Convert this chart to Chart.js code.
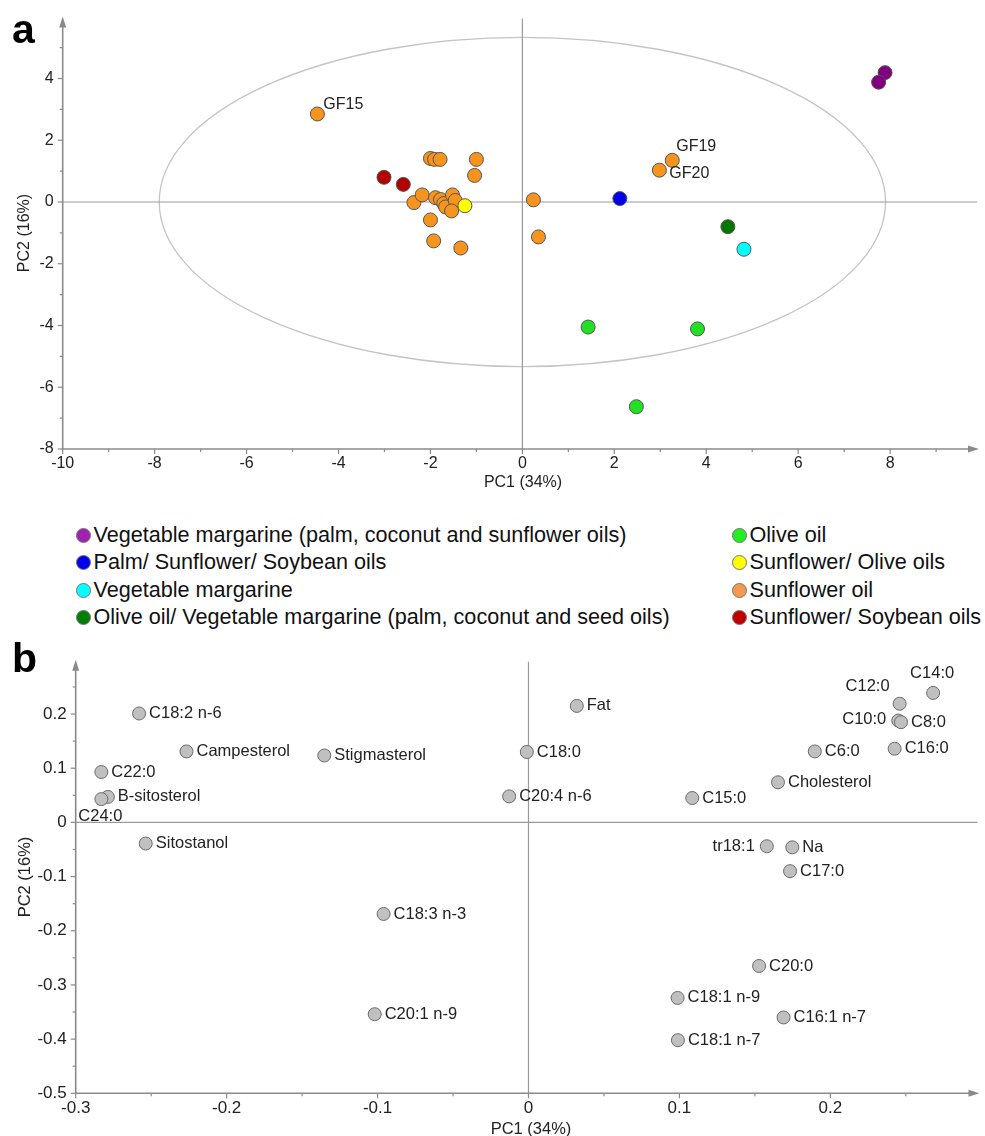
<!DOCTYPE html>
<html>
<head>
<meta charset="utf-8">
<script src="https://cdn.jsdelivr.net/npm/chart.js@4.4.1/dist/chart.umd.min.js"></script>
<style>
  html, body { margin:0; padding:0; background:#fff; }
  body { width:985px; height:1136px; position:relative; overflow:hidden; font-family:"Liberation Sans", Arial, sans-serif; }
  canvas { position:absolute; left:0; }
  .panel { position:absolute; left:12px; font-weight:bold; font-size:41px; line-height:41px; color:#000; z-index:5; }
  .leg { position:absolute; height:26px; display:flex; align-items:center; font-size:21.6px; color:#111; white-space:nowrap; }
  .leg i { display:inline-block; width:15px; height:15px; border-radius:50%; box-sizing:border-box; border:1px solid #777; margin-right:3px; }
</style>
</head>
<body>
<canvas id="ca" width="985" height="505" style="top:0"></canvas>
<canvas id="cb" width="985" height="496" style="top:640px"></canvas>
<div class="panel" style="top:9px">a</div>
<div class="panel" style="top:638px">b</div>
<div id="legend"></div>
<script>
// ---------- Panel a: scores ----------
const aXTicks = [-10, -8, -6, -4, -2, 0, 2, 4, 6, 8];
const aYTicks = [-8, -6, -4, -2, 0, 2, 4];

const margarinePCSX = [7.89, 7.75];
const margarinePCSY = [4.19, 3.88];
const palmSunSoyX = [2.12];
const palmSunSoyY = [0.11];
const vegMargarineX = [4.82];
const vegMargarineY = [-1.53];
const oliveVegMargX = [4.47];
const oliveVegMargY = [-0.80];
const oliveX = [1.43, 3.81, 2.48];
const oliveY = [-4.05, -4.11, -6.63];
const sunOliveX = [-1.25];
const sunOliveY = [-0.12];
const sunflowerX = [-4.46, -2.0, -1.91, -1.79, -1.0, -1.04, -2.36, -2.18, -1.89, -1.78, -1.71, -1.67, -1.52, -1.46, -1.54, -2.0, -1.93, -1.34, 3.26, 2.98, 0.24, 0.35];
const sunflowerY = [2.85, 1.41, 1.38, 1.38, 1.38, 0.86, -0.02, 0.23, 0.14, 0.08, -0.05, -0.16, 0.23, 0.05, -0.29, -0.58, -1.26, -1.49, 1.35, 1.03, 0.07, -1.13];
const sunflowerIds = ['GF15', '', '', '', '', '', '', '', '', '', '', '', '', '', '', '', '', '', 'GF19', 'GF20', '', ''];
const sunSoyX = [-3.01, -2.59];
const sunSoyY = [0.80, 0.57];

const groupNames = [
  'Vegetable margarine (palm, coconut and sunflower oils)',
  'Palm/ Sunflower/ Soybean oils',
  'Vegetable margarine',
  'Olive oil/ Vegetable margarine (palm, coconut and seed oils)',
  'Olive oil',
  'Sunflower/ Olive oils',
  'Sunflower oil',
  'Sunflower/ Soybean oils'
];

// ---------- Panel b: loadings ----------
const bXTicks = [-0.3, -0.2, -0.1, 0, 0.1, 0.2];
const bYTicks = [-0.5, -0.4, -0.3, -0.2, -0.1, 0, 0.1, 0.2];
const loadingNames = ['C18:2 n-6', 'Campesterol', 'Stigmasterol', 'C22:0', 'B-sitosterol', 'C24:0', 'Sitostanol', 'C18:3 n-3', 'C20:1 n-9',
  'Fat', 'C18:0', 'C20:4 n-6', 'C15:0', 'Cholesterol', 'C6:0', 'C16:0', 'C10:0', 'C8:0', 'C12:0', 'C14:0',
  'tr18:1', 'Na', 'C17:0', 'C20:0', 'C18:1 n-9', 'C16:1 n-7', 'C18:1 n-7'];
const loadingPC1 = [-0.258, -0.2266, -0.1353, -0.283, -0.2787, -0.283, -0.2536, -0.096, -0.1019,
  0.032, -0.0011, -0.0128, 0.1085, 0.1653, 0.1897, 0.2426, 0.2450, 0.2468, 0.2459, 0.2681,
  0.1579, 0.1748, 0.1733, 0.1528, 0.0988, 0.169, 0.099];
const loadingPC2 = [0.201, 0.131, 0.1235, 0.093, 0.047, 0.043, -0.039, -0.169, -0.354,
  0.215, 0.130, 0.048, 0.045, 0.074, 0.131, 0.136, 0.188, 0.185, 0.219, 0.239,
  -0.044, -0.046, -0.090, -0.265, -0.324, -0.360, -0.402];

// ---------- styles ----------
const FONT = '"Liberation Sans", Arial, sans-serif';
const plotColors = ['#800080', '#0000E8', '#00FFFF', '#007800', '#22E022', '#FFFF00', '#F7941D', '#B40000'];
const legendColors = ['#A020B0', '#0000EE', '#00FFFF', '#008000', '#22EE22', '#FFFF00', '#F39A4E', '#C00000'];
const labelPlacementA = {
  'GF15': { align: 'left', dx: 6, dy: -9 },
  'GF19': { align: 'left', dx: 4, dy: -14 },
  'GF20': { align: 'left', dx: 10, dy: 3 }
};
const labelPlacementB = {
  'C12:0': { align: 'right', dx: -10, dy: -17 },
  'C14:0': { align: 'center', dx: -1, dy: -19 },
  'C10:0': { align: 'right', dx: -12, dy: -1 },
  'tr18:1': { align: 'right', dx: -12, dy: 0 },
  'C24:0': { align: 'center', dx: -1, dy: 17 }
};

function pts(xs, ys) { return xs.map((v, i) => ({ x: v, y: ys[i] })); }

function line(ctx, x1, y1, x2, y2) { ctx.beginPath(); ctx.moveTo(x1, y1); ctx.lineTo(x2, y2); ctx.stroke(); }

function axesPlugin(opts) {
  return {
    id: 'axesDeco',
    beforeDatasetsDraw(chart) {
      const { ctx, chartArea: ca, scales: { x, y } } = chart;
      ctx.save();
      const x0 = x.getPixelForValue(0), y0 = y.getPixelForValue(0);
      // ellipse
      if (opts.ellipse) {
        const cx = x.getPixelForValue(0), cy = y.getPixelForValue(0);
        const rx = x.getPixelForValue(opts.ellipse[0]) - cx;
        const ry = cy - y.getPixelForValue(opts.ellipse[1]);
        ctx.strokeStyle = '#c4c4c4'; ctx.lineWidth = 1.3;
        ctx.beginPath(); ctx.ellipse(cx, cy, rx, ry, 0, 0, Math.PI * 2); ctx.stroke();
      }
      // zero lines
      ctx.strokeStyle = '#9a9a9a'; ctx.lineWidth = 1.2;
      line(ctx, ca.left, y0, ca.right, y0);
      line(ctx, x0, ca.bottom, x0, ca.top);
      // axes
      ctx.strokeStyle = '#8a8a8a'; ctx.lineWidth = 1.6;
      line(ctx, ca.left, ca.bottom, ca.right - 6, ca.bottom);
      line(ctx, ca.left, ca.bottom, ca.left, ca.top + 6);
      ctx.fillStyle = '#8a8a8a';
      ctx.beginPath(); ctx.moveTo(ca.right + 2, ca.bottom); ctx.lineTo(ca.right - 9, ca.bottom - 3.5); ctx.lineTo(ca.right - 9, ca.bottom + 3.5); ctx.closePath(); ctx.fill();
      ctx.beginPath(); ctx.moveTo(ca.left, ca.top - 2); ctx.lineTo(ca.left - 3.5, ca.top + 9); ctx.lineTo(ca.left + 3.5, ca.top + 9); ctx.closePath(); ctx.fill();
      // ticks
      ctx.lineWidth = 1.2; ctx.strokeStyle = '#8a8a8a';
      opts.xMajor.forEach(v => { const p = x.getPixelForValue(v); line(ctx, p, ca.bottom, p, ca.bottom + 5); });
      opts.yMajor.forEach(v => { const p = y.getPixelForValue(v); line(ctx, ca.left, p, ca.left - 5, p); });
      opts.xMinor.forEach(v => { const p = x.getPixelForValue(v); if (p < ca.right - 8) line(ctx, p, ca.bottom, p, ca.bottom + 3); });
      opts.yMinor.forEach(v => { const p = y.getPixelForValue(v); if (p > ca.top + 10) line(ctx, ca.left, p, ca.left - 3, p); });
      ctx.restore();
    },
    afterDatasetsDraw(chart) {
      const { ctx, chartArea: ca, scales: { x, y } } = chart;
      ctx.save();
      // point labels
      ctx.fillStyle = '#222';
      ctx.font = opts.labelFont;
      ctx.textBaseline = 'middle';
      opts.labels.forEach(l => {
        if (!l.text) return;
        const pl = opts.placement[l.text] || { align: 'left', dx: 10, dy: 0 };
        ctx.textAlign = pl.align;
        ctx.fillText(l.text, x.getPixelForValue(l.x) + pl.dx, y.getPixelForValue(l.y) + pl.dy);
      });
      // axis titles
      ctx.font = opts.titleFont; ctx.fillStyle = '#222';
      ctx.textAlign = 'center'; ctx.textBaseline = 'middle';
      ctx.fillText('PC1 (34%)', opts.xTitle[0], opts.xTitle[1]);
      ctx.translate(opts.yTitle[0], opts.yTitle[1]);
      ctx.rotate(-Math.PI / 2);
      ctx.fillText('PC2 (16%)', 0, 0);
      ctx.restore();
    }
  };
}

function scalesCfg(xMin, xMax, yMin, yMax, xTicks, yTicks, xH, yW, fontSize, xPad, yPad, fmt) {
  const tickFont = { family: FONT, size: fontSize };
  return {
    x: {
      type: 'linear', position: 'bottom', min: xMin, max: xMax,
      grid: { display: false, drawTicks: false }, border: { display: false },
      ticks: { font: tickFont, color: '#222', padding: xPad, maxRotation: 0, autoSkip: false, callback: fmt },
      afterBuildTicks: s => { s.ticks = xTicks.map(v => ({ value: v })); },
      afterFit: s => { s.height = xH; }
    },
    y: {
      type: 'linear', position: 'left', min: yMin, max: yMax,
      grid: { display: false, drawTicks: false }, border: { display: false },
      ticks: { font: tickFont, color: '#222', padding: yPad, autoSkip: false, callback: fmt },
      afterBuildTicks: s => { s.ticks = yTicks.map(v => ({ value: v })); },
      afterFit: s => { s.width = yW; }
    }
  };
}

const fmt = v => String(+(+v).toFixed(2));

// ----- chart a -----
const aGroupsX = [margarinePCSX, palmSunSoyX, vegMargarineX, oliveVegMargX, oliveX, sunOliveX, sunflowerX, sunSoyX];
const aGroupsY = [margarinePCSY, palmSunSoyY, vegMargarineY, oliveVegMargY, oliveY, sunOliveY, sunflowerY, sunSoyY];
const aDatasets = groupNames.map((name, i) => ({
  label: name,
  data: pts(aGroupsX[i], aGroupsY[i]),
  backgroundColor: plotColors[i],
  borderColor: '#555',
  borderWidth: 1,
  pointRadius: 7,
  pointHoverRadius: 7
}));
const aLabels = sunflowerIds.map((t, i) => ({ text: t, x: sunflowerX[i], y: sunflowerY[i] }));

new Chart(document.getElementById('ca'), {
  type: 'scatter',
  data: { datasets: aDatasets },
  options: {
    responsive: false, animation: false, devicePixelRatio: 1,
    layout: { padding: { top: 17, right: 3, left: 0, bottom: 0 } },
    plugins: { legend: { display: false }, tooltip: { enabled: false } },
    scales: scalesCfg(-10, 9.89, -8, 5.94, aXTicks, aYTicks, 56, 62.7, 16, 5, 9, fmt)
  },
  plugins: [axesPlugin({
    ellipse: [7.9, 5.33],
    xMajor: aXTicks, yMajor: aYTicks,
    xMinor: [-9, -7, -5, -3, -1, 1, 3, 5, 7, 9],
    yMinor: [-7, -5, -3, -1, 1, 3, 5],
    labels: aLabels, placement: labelPlacementA,
    labelFont: '16px ' + FONT, titleFont: '16px ' + FONT,
    xTitle: [523, 483], yTitle: [25, 233]
  })]
});

// ----- chart b -----
const bLabels = loadingNames.map((t, i) => ({ text: t, x: loadingPC1[i], y: loadingPC2[i] }));
new Chart(document.getElementById('cb'), {
  type: 'scatter',
  data: {
    datasets: [{
      label: 'Loadings',
      data: pts(loadingPC1, loadingPC2),
      backgroundColor: '#C0C0C0',
      borderColor: '#6a6a6a',
      borderWidth: 1,
      pointRadius: 6.5,
      pointHoverRadius: 6.5
    }]
  },
  options: {
    responsive: false, animation: false, devicePixelRatio: 1,
    layout: { padding: { top: 21.7, right: 2, left: 0, bottom: 0 } },
    plugins: { legend: { display: false }, tooltip: { enabled: false } },
    scales: scalesCfg(-0.3, 0.2975, -0.5, 0.2966, bXTicks, bYTicks, 42.7, 75.7, 17, 4.5, 9, fmt)
  },
  plugins: [axesPlugin({
    ellipse: null,
    xMajor: bXTicks, yMajor: bYTicks,
    xMinor: [-0.25, -0.15, -0.05, 0.05, 0.15, 0.25],
    yMinor: [-0.45, -0.35, -0.25, -0.15, -0.05, 0.05, 0.15, 0.25],
    labels: bLabels, placement: labelPlacementB,
    labelFont: '16.5px ' + FONT, titleFont: '16.5px ' + FONT,
    xTitle: [531, 489], yTitle: [25, 237]
  })]
});

// ----- shared legend -----
const legendRows = [535, 562, 590, 617];
const legendEl = document.getElementById('legend');
groupNames.forEach((name, i) => {
  const col = i < 4 ? 0 : 1;
  const row = i % 4;
  const d = document.createElement('div');
  d.className = 'leg';
  d.style.left = (col === 0 ? 75.5 : 731.5) + 'px';
  d.style.top = (legendRows[row] - 13) + 'px';
  const m = document.createElement('i');
  m.style.background = legendColors[i];
  d.appendChild(m);
  d.appendChild(document.createTextNode(name));
  legendEl.appendChild(d);
});
</script>
</body>
</html>
